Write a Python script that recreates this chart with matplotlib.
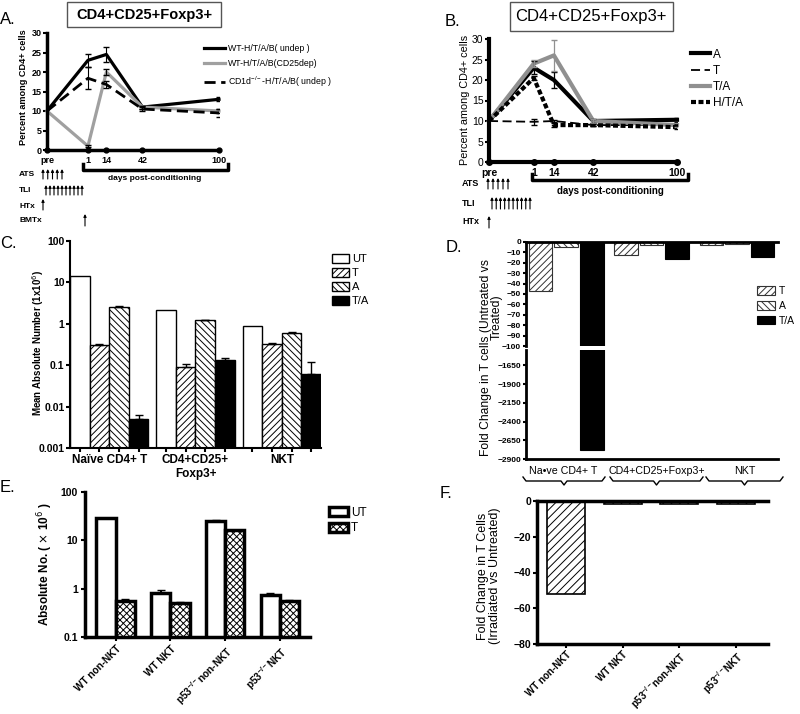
import matplotlib.pyplot as plt
import numpy as np
from matplotlib.patches import Rectangle
from matplotlib.ticker import NullLocator

plt.rcParams['font.family'] = ['Liberation Sans', 'DejaVu Sans']
plt.rcParams['hatch.linewidth'] = 0.7

# ---- data ----
day_labels = ['pre', '1', '14', '42', '100']
day_pos = [0, 1, 1.45, 2.33, 4.2]

# panel A
a_wt_undep = [10, 23, 24.5, 11, 13]
a_wt_undep_err = [0, 1.7, 2.0, 0.4, 0.5]
a_wt_cd25dep = [10, 1, 20, 11, 10]
a_wt_cd25dep_err = [0, 0.3, 0.8, 0.4, 0.4]
a_cd1d = [10, 18.4, 16.8, 10.5, 9.5]
a_cd1d_err = [0, 2.8, 0.8, 0.6, 1.0]

# panel B
b_a = [10, 23, 20, 10, 10.3]
b_a_err = [0, 1.6, 2.0, 0.5, 0.5]
b_t = [10, 9.8, 10, 9, 9]
b_t_err = [0, 0.8, 0.3, 0.3, 0.3]
b_ta = [10, 24, 26, 10, 9]
b_ta_err = [0, 0.8, 3.7, 0.6, 0.5]
b_hta = [10, 20.5, 9, 9, 8.5]
b_hta_err = [0, 0.5, 0.4, 0.3, 0.5]

# panel C
c_groups = ['Naïve CD4+ T', 'CD4+CD25+\nFoxp3+', 'NKT']
c_ut = [14.5, 2.1, 0.87]
c_t = [0.31, 0.091, 0.33]
c_t_err = [0.02, 0.014, 0.005]
c_a = [2.6, 1.23, 0.6]
c_a_err = [0.05, 0.03, 0.02]
c_ta = [0.005, 0.137, 0.061]
c_ta_err = [0.0012, 0.013, 0.06]

# panel D
d_groups = ['Na\u2022ve CD4+ T', 'CD4+CD25+Foxp3+', 'NKT']
d_t = [-47, -12.5, -3]
d_a = [-5, -3, -2]
d_ta = [-2780, -16, -14]

# panel E
e_groups = ['WT non-NKT', 'WT NKT', r'p53$^{\mathregular{-/-}}$non-NKT', r'p53$^{\mathregular{-/-}}$NKT']
e_ut = [29, 0.81, 25, 0.74]
e_ut_err = [0, 0.14, 1.5, 0.06]
e_t = [0.55, 0.5, 16, 0.55]
e_t_err = [0.05, 0.02, 0, 0.02]

# panel F
f_fold = [-52, -1.5, -1.5, -1.5]

W, H = 800, 714
fig = plt.figure(figsize=(8, 7.14), dpi=100)


def box(x0, y0, x1, y1):
    return [x0 / W, 1 - y1 / H, (x1 - x0) / W, (y1 - y0) / H]


def style(ax, lw=2.5, fs=7, pad=1.5):
    for s in ['top', 'right']:
        ax.spines[s].set_visible(False)
    for s in ['left', 'bottom']:
        ax.spines[s].set_linewidth(lw)
    ax.tick_params(direction='out', length=3, width=1.5, labelsize=fs, pad=pad)
    for t in ax.get_yticklabels() + ax.get_xticklabels():
        t.set_fontweight('bold')


# ---- A ----
axA = fig.add_axes(box(47, 33, 219, 150))
axA.plot(day_pos, a_wt_undep, color='k', lw=2.3, clip_on=False, label='WT-H/T/A/B( undep )')
axA.plot(day_pos, a_wt_cd25dep, color='#a0a0a0', lw=2.3, clip_on=False, label='WT-H/T/A/B(CD25dep)')
axA.plot(day_pos, a_cd1d, color='k', lw=2.0, dashes=(4, 2), clip_on=False,
         label=r'CD1d$^{\mathregular{-/-}}$-H/T/A/B( undep )')
for v, e in [(a_wt_undep, a_wt_undep_err), (a_wt_cd25dep, a_wt_cd25dep_err), (a_cd1d, a_cd1d_err)]:
    axA.errorbar(day_pos[1:], v[1:], yerr=e[1:], fmt='none', ecolor='k', elinewidth=0.8, capsize=2)
axA.plot(day_pos, [0] * 5, 'o', color='k', ms=3.5, clip_on=False, zorder=5)
axA.set_xlim(0, 4.2)
axA.set_ylim(0, 30)
axA.set_yticks(range(0, 31, 5))
axA.set_xticks(day_pos, day_labels)
style(axA, fs=6.5, pad=1)
axA.tick_params(axis='x', length=0, pad=4)
fig.legend(loc='upper left', bbox_to_anchor=(196 / W, 1 - 36 / H), frameon=False, fontsize=6.3,
           handlelength=2.4, handletextpad=0.3, labelspacing=0.75)

# ---- B ----
axB = fig.add_axes(box(489, 39, 677, 162))
lB1, = axB.plot(day_pos, b_a, color='k', lw=3, clip_on=False, label='A')
lB2, = axB.plot(day_pos, b_t, color='k', lw=1.3, dashes=(5, 2.5), clip_on=False, label='T')
lB3, = axB.plot(day_pos, b_ta, color='#909090', lw=3, clip_on=False, label='T/A')
lB4, = axB.plot(day_pos, b_hta, color='k', lw=3, dashes=(1.2, 0.6), clip_on=False, label='H/T/A')
for v, e, c in [(b_a, b_a_err, 'k'), (b_t, b_t_err, 'k'), (b_ta, b_ta_err, '#909090'), (b_hta, b_hta_err, 'k')]:
    axB.errorbar(day_pos[1:], v[1:], yerr=e[1:], fmt='none', ecolor=c, elinewidth=0.9, capsize=2.5)
axB.plot(day_pos, [0] * 5, 'o', color='k', ms=4, clip_on=False, zorder=5)
axB.set_xlim(0, 4.2)
axB.set_ylim(0, 30)
axB.set_yticks(range(0, 31, 5))
axB.set_xticks(day_pos, day_labels)
style(axB, lw=3, fs=7.5, pad=1)
for t in axB.get_yticklabels():
    t.set_fontweight('normal')
axB.tick_params(axis='x', length=0, pad=4)
fig.legend(handles=[lB1, lB2, lB3, lB4], loc='upper left', bbox_to_anchor=(680 / W, 1 - 38 / H),
           frameon=False, fontsize=8.5, handlelength=1.6, handletextpad=0.3, labelspacing=0.35)

# ---- C ----
axC = fig.add_axes(box(70, 241, 321, 448))
wc = 0.227
gx = np.arange(3)
cC = []
cC.append(axC.bar(gx - 1.5 * wc, c_ut, wc, color='white', edgecolor='k', lw=1, label='UT'))
cC.append(axC.bar(gx - 0.5 * wc, c_t, wc, color='white', edgecolor='k', lw=1, hatch='/////', label='T'))
cC.append(axC.bar(gx + 0.5 * wc, c_a, wc, color='white', edgecolor='k', lw=1, hatch='\\\\\\\\\\', label='A'))
cC.append(axC.bar(gx + 1.5 * wc, c_ta, wc, color='black', edgecolor='k', lw=1, label='T/A'))
axC.errorbar(gx - 0.5 * wc, c_t, yerr=[np.zeros(3), c_t_err], fmt='none', ecolor='k', elinewidth=1, capsize=3)
axC.errorbar(gx + 0.5 * wc, c_a, yerr=[np.zeros(3), c_a_err], fmt='none', ecolor='k', elinewidth=1, capsize=3)
axC.errorbar(gx + 1.5 * wc, c_ta, yerr=[np.zeros(3), c_ta_err], fmt='none', ecolor='k', elinewidth=1, capsize=3)
axC.set_yscale('log')
axC.set_ylim(0.001, 100)
axC.set_xlim(-2 * wc, 2 + 2 * wc)
axC.set_yticks([0.001, 0.01, 0.1, 1, 10, 100], ['0.001', '0.01', '0.1', '1', '10', '100'])
axC.yaxis.set_minor_locator(NullLocator())
axC.set_xticks(np.concatenate([gx + k * wc for k in (-1.5, -0.5, 0.5, 1.5)]), [])
style(axC, lw=1.5, fs=7.5, pad=1)
for g, lab in zip(gx, c_groups):
    axC.text(g, -0.03, lab, transform=axC.get_xaxis_transform(), ha='center', va='top',
             fontsize=8.5, fontweight='bold')
fig.legend(handles=cC, loc='upper left', bbox_to_anchor=(322 / W, 1 - 244 / H), frameon=False,
           fontsize=8, handlelength=1.5, handleheight=0.8, handletextpad=0.3, labelspacing=0.35)

# ---- D (broken axis) ----
axD1 = fig.add_axes(box(526, 242, 778, 346))
axD2 = fig.add_axes(box(526, 350, 778, 459))
wd = 0.275
sd = 0.3
cD = []
for ax in (axD1, axD2):
    b1 = ax.bar(gx - sd, d_t, wd, color='white', edgecolor='#333', lw=0.8, hatch='/////', label='T')
    b2 = ax.bar(gx, d_a, wd, color='white', edgecolor='#333', lw=0.8, hatch='\\\\\\\\\\', label='A')
    b3 = ax.bar(gx + sd, d_ta, wd, color='black', edgecolor='k', lw=0.8, label='T/A')
    ax.set_xlim(-0.47, 2.48)
    ax.set_xticks([])
    for s in ['right', 'top', 'bottom']:
        ax.spines[s].set_visible(False)
    ax.spines['left'].set_linewidth(2)
    ax.tick_params(direction='out', length=2.5, width=1.5, labelsize=6, pad=1)
    cD = [b1, b2, b3]
axD1.set_ylim(-100, 0)
axD1.spines['top'].set_visible(True)
axD1.spines['top'].set_linewidth(2)
axD1.set_yticks(range(0, -101, -10))
axD2.set_ylim(-2900, -1443)
axD2.spines['bottom'].set_visible(True)
axD2.spines['bottom'].set_linewidth(2)
axD2.set_yticks([-1650, -1900, -2150, -2400, -2650, -2900])
for ax in (axD1, axD2):
    for t in ax.get_yticklabels():
        t.set_fontweight('bold')
fig.legend(handles=cD, loc='upper left', bbox_to_anchor=(748 / W, 1 - 277 / H), frameon=False,
           fontsize=7.5, handlelength=1.7, handleheight=0.9, handletextpad=0.4, labelspacing=0.45)

# ---- E ----
axE = fig.add_axes(box(85, 492, 310, 637))
we = 0.35
gxe = np.arange(4)
cE = []
cE.append(axE.bar(gxe - we / 2, e_ut, we, color='white', edgecolor='k', lw=2.5, label='UT'))
cE.append(axE.bar(gxe + we / 2, e_t, we, color='white', edgecolor='k', lw=2.5, hatch='xxxxx', label='T'))
axE.errorbar(gxe - we / 2, e_ut, yerr=[np.zeros(4), e_ut_err], fmt='none', ecolor='k', elinewidth=1.5, capsize=3)
axE.errorbar(gxe + we / 2, e_t, yerr=[np.zeros(4), e_t_err], fmt='none', ecolor='k', elinewidth=1.5, capsize=3)
axE.set_yscale('log')
axE.set_ylim(0.1, 100)
axE.set_xlim(-0.56, 3.55)
axE.set_yticks([0.1, 1, 10, 100], ['0.1', '1', '10', '100'])
axE.yaxis.set_minor_locator(NullLocator())
axE.set_xticks(gxe, e_groups, rotation=45, ha='right', rotation_mode='anchor')
style(axE, lw=2.5, fs=7.5, pad=2)
for t in axE.get_xticklabels():
    t.set_fontsize(7.2)
fig.legend(handles=cE, loc='upper left', bbox_to_anchor=(318 / W, 1 - 496 / H), frameon=False,
           fontsize=8.5, handlelength=1.6, handleheight=0.8, handletextpad=0.3, labelspacing=0.3)

# ---- F ----
axF = fig.add_axes(box(537, 501, 768, 644))
axF.bar(gxe, f_fold, 0.67, color='white', edgecolor='k', lw=1.2, hatch='////')
axF.set_ylim(-80, 0)
axF.set_xlim(-0.51, 3.56)
axF.set_yticks([0, -20, -40, -60, -80])
axF.set_xticks(gxe, e_groups, rotation=45, ha='right', rotation_mode='anchor')
style(axF, lw=2.5, fs=7.5, pad=1)
for t in axF.get_xticklabels():
    t.set_fontsize(7)
axF.spines['top'].set_visible(True)
axF.spines['top'].set_linewidth(2.5)

# ---- overlay: titles, letters, labels, schedules ----
ov = fig.add_axes([0, 0, 1, 1])
ov.set_xlim(0, W)
ov.set_ylim(H, 0)
ov.axis('off')
ov.patch.set_alpha(0)

ov.add_patch(Rectangle((67, 2), 154, 25, fill=False, edgecolor='#555', lw=1))
ov.text(144, 15, 'CD4+CD25+Foxp3+', ha='center', va='center', fontsize=10.5, fontweight='bold')
ov.add_patch(Rectangle((510, 2), 163, 29, fill=False, edgecolor='#555', lw=1))
ov.text(591, 17, 'CD4+CD25+Foxp3+', ha='center', va='center', fontsize=12)

for x, y, s in [(0, 20, 'A.'), (445, 22, 'B.'), (0, 244, 'C.'), (446, 248, 'D.'), (0, 488, 'E.'), (440, 493, 'F.')]:
    ov.text(x, y, s, ha='left', va='center', fontsize=12)

ov.text(24, 87, 'Percent among CD4+ cells', rotation=90, ha='center', va='center', fontsize=6.6, fontweight='bold')
ov.text(465, 100, 'Percent among CD4+ cells', rotation=90, ha='center', va='center', fontsize=7.8)
ov.text(38, 343, r'Mean Absolute Number (1x10$^6$)', rotation=90, ha='center', va='center',
        fontsize=7, fontweight='bold')
ov.text(486, 357, 'Fold Change in T cells (Untreated vs', rotation=90, ha='center', va='center', fontsize=8.7)
ov.text(497, 317, 'Treated)', rotation=90, ha='center', va='center', fontsize=8.7)
ov.text(45, 564, r'Absolute No. ( $\times$ 10$^6$ )', rotation=90, ha='center', va='center',
        fontsize=8.5, fontweight='bold')
ov.text(489, 576, 'Fold Change in T Cells\n(Irradiated vs Untreated)', rotation=90, ha='center',
        va='center', fontsize=9, multialignment='center', linespacing=1.0)

# days post-conditioning brackets
ov.plot([83, 83, 228, 228], [164, 170, 170, 164], color='k', lw=2.5)
ov.text(155, 178, 'days post-conditioning', ha='center', va='center', fontsize=6, fontweight='bold')
ov.plot([532, 532, 688, 688], [174, 180, 180, 174], color='k', lw=2.5)
ov.text(610, 191, 'days post-conditioning', ha='center', va='center', fontsize=7, fontweight='bold')


def arrows(x0, x1, n, yb, yt):
    for x in np.linspace(x0, x1, n):
        ov.annotate('', xy=(x, yt), xytext=(x, yb),
                    arrowprops=dict(arrowstyle='-|>', lw=0.8, color='k', mutation_scale=4,
                                    shrinkA=0, shrinkB=0))


arrows(43, 62, 5, 179, 169)
arrows(46, 82, 10, 195, 185)
arrows(43, 43, 1, 210, 199)
arrows(85, 85, 1, 226, 214)
for y, s in [(174, 'ATS'), (190, 'TLI'), (206, 'HTx'), (221, 'BMTx')]:
    ov.text(19, y, s, ha='left', va='center', fontsize=6, fontweight='bold')

arrows(488, 508, 5, 189, 178)
arrows(492, 530, 10, 209, 197)
arrows(489, 489, 1, 228, 216)
for y, s in [(183, 'ATS'), (203, 'TLI'), (222, 'HTx')]:
    ov.text(462, y, s, ha='left', va='center', fontsize=6.5, fontweight='bold')

# group labels and braces under D
for xc, s in [(563, d_groups[0]), (657, d_groups[1]), (745, d_groups[2])]:
    ov.text(xc, 471, s, ha='center', va='center', fontsize=7.7)
for x0, x1 in [(523, 605), (610, 703), (706, 783)]:
    xm = (x0 + x1) / 2
    ov.plot([x0, x0 + 3, xm - 3, xm, xm + 3, x1 - 3, x1],
            [477, 481, 481, 485, 481, 481, 477], color='k', lw=1)

fig.savefig('out.png', dpi=100)
